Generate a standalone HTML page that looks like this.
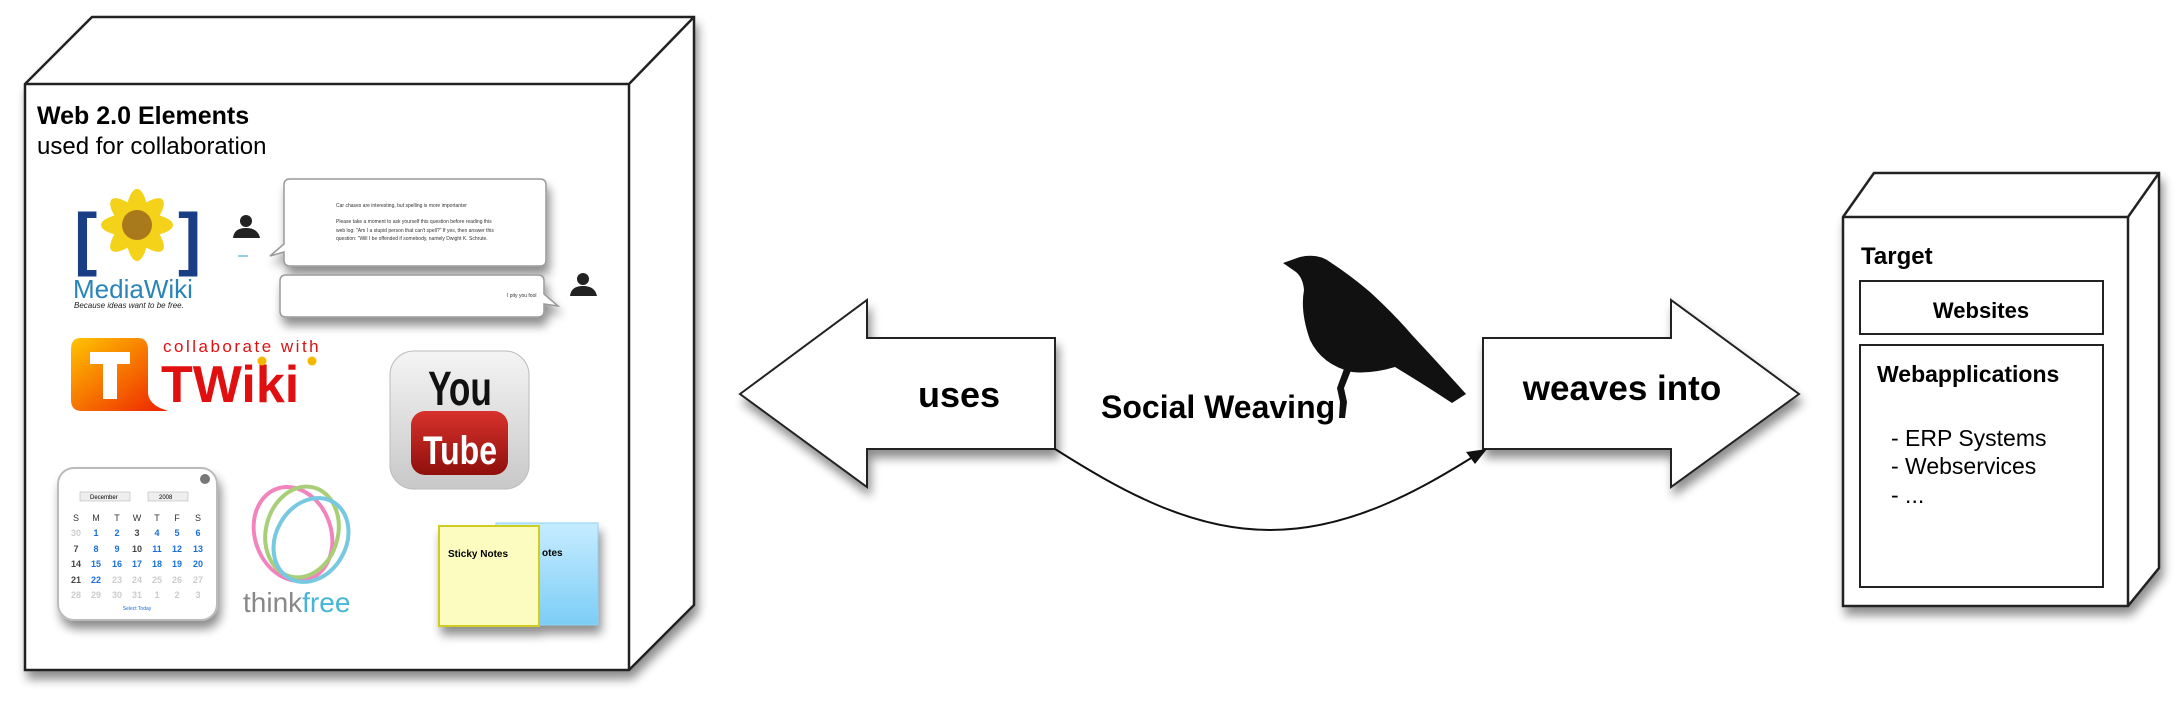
<!DOCTYPE html>
<html><head><meta charset="utf-8"><style>
html,body{margin:0;padding:0;background:#fff;}
svg{display:block;font-family:"Liberation Sans",Arial,sans-serif;}
</style></head><body>
<svg width="2183" height="704" viewBox="0 0 2183 704" xmlns="http://www.w3.org/2000/svg">
<defs>
<filter id="sh" x="-10%" y="-10%" width="130%" height="130%"><feGaussianBlur in="SourceAlpha" stdDeviation="5"/><feOffset dx="3" dy="8"/><feComponentTransfer><feFuncA type="linear" slope="0.45"/></feComponentTransfer><feMerge><feMergeNode/><feMergeNode in="SourceGraphic"/></feMerge></filter>
<linearGradient id="tw" x1="0" y1="0" x2="1" y2="1"><stop offset="0" stop-color="#ffc400"/><stop offset="1" stop-color="#ee2200"/></linearGradient>
<linearGradient id="yt" x1="0" y1="0" x2="0" y2="1"><stop offset="0" stop-color="#f4f4f4"/><stop offset="1" stop-color="#c8c8c8"/></linearGradient>
<linearGradient id="ytr" x1="0" y1="0" x2="0" y2="1"><stop offset="0" stop-color="#d8322c"/><stop offset="1" stop-color="#8e0f0c"/></linearGradient>
<linearGradient id="bl" x1="0" y1="0" x2="0" y2="1"><stop offset="0" stop-color="#c6ecff"/><stop offset="1" stop-color="#7ccdf6"/></linearGradient>
</defs>

<!-- Left 3D box -->
<g filter="url(#sh)">
<polygon points="25,84 92,17 694,17 694,605 629,670 25,670" fill="#fff" stroke="#222" stroke-width="2.5"/>
</g>
<polyline points="25,84 629,84 694,17" fill="none" stroke="#222" stroke-width="2.5"/>
<line x1="629" y1="84" x2="629" y2="670" stroke="#222" stroke-width="2.5"/>
<text x="37" y="124" font-size="25" font-weight="bold" fill="#000">Web 2.0 Elements</text>
<text x="37" y="154" font-size="24" fill="#000">used for collaboration</text>

<!-- MediaWiki -->
<g>
<text x="74" y="262" font-size="70" fill="#1a3e86" font-weight="bold">[</text>
<text x="178" y="262" font-size="70" fill="#1a3e86" font-weight="bold">]</text>
<g fill="#f5d21a">
<ellipse cx="137" cy="225" rx="12" ry="36"/><ellipse cx="137" cy="225" rx="36" ry="12"/>
<ellipse cx="137" cy="225" rx="12" ry="36" transform="rotate(45 137 225)"/><ellipse cx="137" cy="225" rx="12" ry="36" transform="rotate(-45 137 225)"/>
</g>
<circle cx="137" cy="225" r="15" fill="#a87a1c"/>
<text x="73" y="298" font-size="26" fill="#2a84b8">MediaWiki</text>
<text x="74" y="308" font-size="8" font-style="italic" fill="#222">Because ideas want to be free.</text>
</g>

<!-- chat -->
<g filter="url(#sh)">
<path d="M290,179 H540 Q546,179 546,185 V260 Q546,266 540,266 H290 Q284,266 284,260 V252 L270,256 L284,244 V185 Q284,179 290,179Z" fill="#fff" stroke="#999" stroke-width="1.5"/>
<path d="M286,275 H538 Q544,275 544,281 V294 L558,306 L544,304 V311 Q544,317 538,317 H286 Q280,317 280,311 V281 Q280,275 286,275Z" fill="#fff" stroke="#999" stroke-width="1.5"/>
</g>
<text x="336" y="207" font-size="5" fill="#333">Car chases are interesting, but spelling is more importanter</text>
<text x="336" y="223" font-size="5" fill="#333">Please take a moment to ask yourself this question before reading this</text>
<text x="336" y="232" font-size="5" fill="#333">web log: "Am I a stupid person that can't spell?" If yes, then answer this</text>
<text x="336" y="240" font-size="5" fill="#333">question: "Will I be offended if somebody, namely Dwight K. Schrute.</text>
<text x="507" y="297" font-size="5" fill="#333">I pity you fool</text>
<g fill="#222"><circle cx="246" cy="221" r="6"/><path d="M233,238 Q234,228 246,228 Q258,228 260,238Z"/>
<circle cx="583" cy="279" r="6"/><path d="M570,296 Q571,286 583,286 Q595,286 597,296Z"/></g>
<line x1="238" y1="256" x2="248" y2="256" stroke="#39c" stroke-width="1"/>

<!-- TWiki -->
<path d="M80,338 H138 Q148,338 148,350 V392 Q148,402 160,408 L168,411 H82 Q71,411 71,400 V350 Q71,338 80,338Z" fill="url(#tw)"/>
<path d="M90,352 H130 V364 H117 V399 H103 V364 H90Z" fill="#fff"/>
<text x="163" y="352" font-size="17" fill="#dd1111" letter-spacing="2.5">collaborate with</text>
<text x="161" y="402" font-size="52" font-weight="bold" fill="#e01010">TWiki</text>
<circle cx="262" cy="361" r="4.5" fill="#f5b800"/><circle cx="312" cy="361" r="4.5" fill="#f5b800"/>

<!-- YouTube -->
<rect x="390" y="351" width="139" height="138" rx="24" fill="url(#yt)" stroke="#bbb"/>
<text x="460" y="404" font-size="44" font-weight="bold" text-anchor="middle" fill="#111" transform="translate(460 0) scale(0.8 1.1) translate(-460 -36)">You</text>
<rect x="411" y="411" width="97" height="64" rx="14" fill="url(#ytr)"/>
<text x="460" y="464" font-size="40" font-weight="bold" text-anchor="middle" fill="#fff" transform="translate(460 0) scale(0.8 1) translate(-460 0)">Tube</text>

<!-- Calendar -->
<g filter="url(#sh)"><rect x="58" y="468" width="159" height="152" rx="16" fill="#fff" stroke="#bbb" stroke-width="2"/></g>
<circle cx="205" cy="479" r="5" fill="#777"/>
<rect x="80" y="492" width="50" height="9" fill="#eee" stroke="#aaa" stroke-width="0.5"/><text x="90" y="499" font-size="6">December</text>
<rect x="148" y="492" width="40" height="9" fill="#eee" stroke="#aaa" stroke-width="0.5"/><text x="159" y="499" font-size="6">2008</text>
<g font-size="9" text-anchor="middle" fill="#333">
<text x="76" y="521">S</text><text x="96" y="521">M</text><text x="117" y="521">T</text><text x="137" y="521">W</text><text x="157" y="521">T</text><text x="177" y="521">F</text><text x="198" y="521">S</text>
</g>
<g font-size="9" text-anchor="middle" font-weight="bold" fill="#1a6fd6">
<text x="76" y="536" fill="#ccc">30</text><text x="96" y="536">1</text><text x="117" y="536">2</text><text x="137" y="536" fill="#444">3</text><text x="157" y="536">4</text><text x="177" y="536">5</text><text x="198" y="536">6</text>
<text x="76" y="552" fill="#444">7</text><text x="96" y="552">8</text><text x="117" y="552">9</text><text x="137" y="552" fill="#444">10</text><text x="157" y="552">11</text><text x="177" y="552">12</text><text x="198" y="552">13</text>
<text x="76" y="567" fill="#444">14</text><text x="96" y="567">15</text><text x="117" y="567">16</text><text x="137" y="567">17</text><text x="157" y="567">18</text><text x="177" y="567">19</text><text x="198" y="567">20</text>
<text x="76" y="583" fill="#444">21</text><text x="96" y="583">22</text><text x="117" y="583" fill="#ccc">23</text><text x="137" y="583" fill="#ccc">24</text><text x="157" y="583" fill="#ccc">25</text><text x="177" y="583" fill="#ccc">26</text><text x="198" y="583" fill="#ccc">27</text>
<text x="76" y="598" fill="#ccc">28</text><text x="96" y="598" fill="#ccc">29</text><text x="117" y="598" fill="#ccc">30</text><text x="137" y="598" fill="#ccc">31</text><text x="157" y="598" fill="#ccc">1</text><text x="177" y="598" fill="#ccc">2</text><text x="198" y="598" fill="#ccc">3</text>
</g>
<text x="137" y="610" font-size="5" text-anchor="middle" fill="#1a6fd6">Select Today</text>

<!-- thinkfree -->
<g fill="none" stroke-width="4" opacity="0.75">
<ellipse cx="293" cy="534" rx="38" ry="48" stroke="#ee5aa8" transform="rotate(-20 293 534)"/>
<ellipse cx="302" cy="532" rx="36" ry="46" stroke="#8cc04a" transform="rotate(15 302 532)"/>
<ellipse cx="311" cy="540" rx="35" ry="44" stroke="#4ab6d8" transform="rotate(30 311 540)"/>
</g>
<text x="243" y="612" font-size="28" fill="#888">think<tspan fill="#45b6d8">free</tspan></text>

<!-- sticky -->
<g filter="url(#sh)">
<rect x="496" y="523" width="102" height="102" fill="url(#bl)" stroke="#8fd3f5" stroke-width="1"/>
<rect x="439" y="526" width="100" height="100" fill="#fdfcc0" stroke="#cfcc22" stroke-width="2"/>
</g>
<text x="448" y="557" font-size="10" font-weight="bold">Sticky Notes</text>
<text x="542" y="556" font-size="10" font-weight="bold">otes</text>

<!-- Arrows -->
<g filter="url(#sh)">
<polygon points="740,394 867,300 867,338 1055,338 1055,449 867,449 867,487" fill="#fff" stroke="#222" stroke-width="2"/>
<polygon points="1799,394 1671,300 1671,338 1483,338 1483,449 1671,449 1671,487" fill="#fff" stroke="#222" stroke-width="2"/>
</g>
<text x="959" y="407" font-size="36" font-weight="bold" text-anchor="middle">uses</text>
<text x="1622" y="400" font-size="35" font-weight="bold" text-anchor="middle">weaves into</text>
<text x="1101" y="418" font-size="32" font-weight="bold">Social Weaving</text>

<!-- curve connector -->
<path d="M1055,449 C1120,490 1190,530 1270,530 C1350,530 1420,490 1476,455" fill="none" stroke="#111" stroke-width="2"/>
<polygon points="1487,449 1466,452 1475,464" fill="#111"/>

<!-- Bird -->
<g fill="#111">
<path d="M1283,263 L1300,257 Q1318,253 1330,262 Q1350,275 1370,292 Q1395,315 1412,335 Q1440,365 1466,394 L1452,403 Q1420,382 1395,367 Q1372,374 1352,372 Q1322,365 1310,340 Q1300,312 1304,290 Q1303,278 1296,272 Z"/>
<path d="M1345,366 L1352,368 L1344,388 L1347,402 L1345,418 L1339,418 L1340,402 L1337,388 Z"/>
</g>

<!-- Target box -->
<g filter="url(#sh)">
<polygon points="1843,217 1874,173 2159,173 2159,568 2128,606 1843,606" fill="#fff" stroke="#222" stroke-width="2.5"/>
</g>
<polyline points="1843,217 2128,217 2159,173" fill="none" stroke="#222" stroke-width="2.5"/>
<line x1="2128" y1="217" x2="2128" y2="606" stroke="#222" stroke-width="2.5"/>
<text x="1861" y="264" font-size="24" font-weight="bold">Target</text>
<rect x="1860" y="281" width="243" height="53" fill="#fff" stroke="#222" stroke-width="2"/>
<text x="1981" y="318" font-size="22" font-weight="bold" text-anchor="middle">Websites</text>
<rect x="1860" y="345" width="243" height="242" fill="#fff" stroke="#222" stroke-width="2"/>
<text x="1877" y="382" font-size="23" font-weight="bold">Webapplications</text>
<text x="1891" y="446" font-size="23">- ERP Systems</text>
<text x="1891" y="474" font-size="23">- Webservices</text>
<text x="1891" y="503" font-size="23">- ...</text>
</svg>
</body></html>
